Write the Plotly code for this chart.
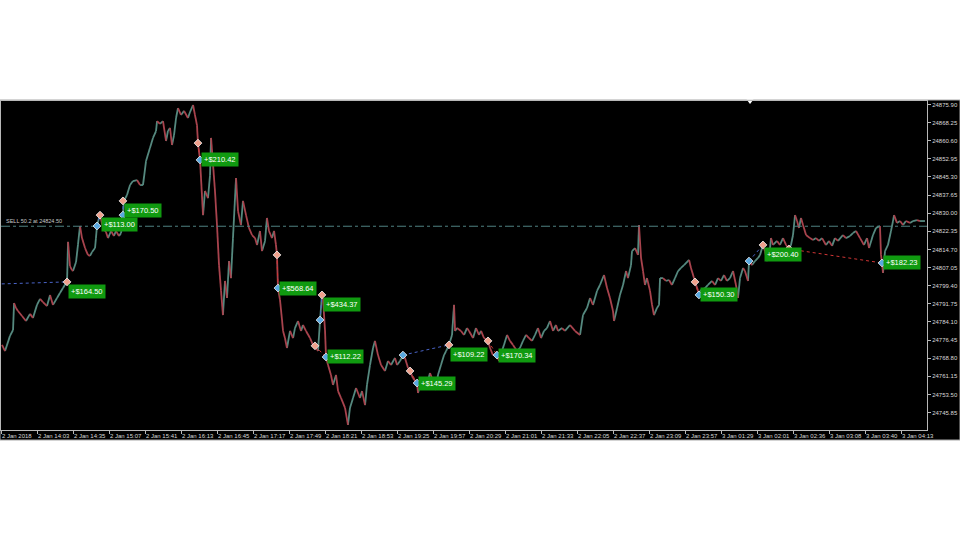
import plotly.graph_objects as go

# ---------------- data ----------------
# price path (bar index, price)
bars = [0.9, 3.6, 8.0, 10.7, 11.6, 13.3, 15.1, 18.7, 22.2, 25.8, 28.4, 32.0, 34.7, 37.3, 40.9, 43.6, 46.2, 49.8, 52.4, 55.1, 57.8, 58.7,
        59.6, 61.3, 63.1, 64.0, 66.7, 68.4, 70.2, 72.0, 74.7, 77.3, 79.1, 80.9, 83.6, 84.4, 85.3, 87.1, 88.0, 90.7, 93.3, 95.1, 97.8, 100.4, 102.2, 104.9, 106.7, 108.4,
        109.3, 112.0, 114.7, 117.3, 120.9, 123.6, 126.2, 128.9, 132.4, 135.1, 137.8, 138.7, 141.3, 144.0, 146.7, 148.4, 150.2, 152.0, 153.8, 155.6, 157.3, 160.0, 162.7, 166.2, 168.0, 170.7, 172.4, 174.2, 175.1, 176.9,
        179.6, 181.3, 184.0, 185.8, 186.7, 188.5, 190.2, 192.0, 193.8, 195.6, 197.3, 199.1, 200.9, 202.7, 204.4, 206.2, 208.9, 210.7, 213.3, 215.1, 217.8, 220.4, 223.1, 225.8, 227.6, 230.2, 232.0, 234.7, 236.4, 238.2, 240.9, 242.7, 244.4, 245.3, 246.2,
        248.0, 249.8, 250.7, 252.4, 254.2, 256.9, 259.6, 261.3, 264.0, 266.7, 268.4, 271.1, 274.7, 277.3, 279.1, 281.8, 283.6, 285.3, 286.2, 288.0, 288.9,
        290.7, 293.3, 295.1, 297.8, 299.6, 302.2, 305.8, 308.4, 310.2, 312.9, 315.6, 319.1, 320.9, 323.6, 325.3, 328.0, 330.7,
        332.4, 335.1, 337.8, 341.3, 344.0, 346.7, 350.2, 352.0, 354.7, 357.3, 359.1, 361.8, 363.6, 366.2, 369.8, 370.7, 372.4, 375.1, 377.8, 381.3, 384.0, 386.7, 388.4, 391.1, 393.8, 395.6, 398.2,
        400.9, 402.7, 403.6, 405.3, 408.9, 411.6, 414.2, 416.0, 419.6, 422.2, 424.9, 426.7, 429.3, 432.9, 434.7, 437.3, 440.9, 442.7, 445.3, 447.1, 449.8, 452.4, 455.1, 458.7, 461.3, 464.0, 466.7, 469.3, 472.0, 474.7, 477.3, 480.0, 482.7, 485.3, 488.0, 490.7, 493.3,
        495.1, 498.7, 501.3, 505.8, 510.2, 514.7, 517.3, 520.9, 523.6, 526.2, 529.8, 532.4, 536.0, 538.7, 541.3, 544.0, 544.9, 547.6, 550.2, 552.9, 555.6, 557.3, 560.0, 560.9, 563.6, 566.2, 567.1, 568.9, 570.7, 572.4, 574.2, 576.9, 578.7, 580.4, 583.1, 584.9, 585.8, 588.4, 591.1, 593.8, 596.4, 599.1, 601.8, 604.4, 607.1, 611.6, 613.3, 616.0, 616.9, 619.6, 620.4,
        621.3, 625.8, 628.4, 632.0, 634.7, 637.3, 640.0, 642.7, 645.3, 648.0, 650.7, 653.3, 655.1, 656.9, 659.6, 661.3, 664.0, 664.9, 667.6, 670.2, 672.9, 674.7, 677.3, 679.1, 680.9, 683.6, 684.4, 686.2, 689.8, 692.4, 695.1, 697.8, 700.4,
        702.2, 704.0, 705.8, 707.6, 709.3, 711.1, 712.9, 715.6, 719.1, 721.8, 724.4, 727.1, 729.8, 733.3, 736.0, 738.7, 741.3, 744.0, 748.4, 751.1, 754.7, 757.3, 760.0, 763.6, 767.1, 769.8, 771.6, 775.1, 777.8, 781.3, 782.2, 783.1, 784.0, 785.8, 788.4, 791.1, 792.9, 793.8, 796.4, 799.1, 801.8, 804.4, 808.0, 810.7, 814.2, 816.9, 821.3]

prices = [24774.4, 24771.8, 24778.2, 24780.7, 24792.1, 24790.0, 24788.7, 24786.6, 24784.5, 24787.5, 24785.8, 24791.3, 24793.8, 24792.5, 24790.8, 24795.5, 24791.3, 24794.2, 24796.3, 24798.4, 24800.5, 24801.0,
          24817.9, 24807.7, 24806.0, 24805.6, 24809.4, 24816.6, 24824.6, 24819.5, 24815.3, 24812.4, 24812.0, 24813.6, 24815.3, 24819.5, 24824.6, 24828.0, 24829.2, 24823.8, 24822.1, 24819.5, 24822.5, 24820.4, 24822.5, 24820.4, 24821.6, 24829.2,
          24835.2, 24837.7, 24841.9, 24843.6, 24844.0, 24841.9, 24841.9, 24852.0, 24857.5, 24861.8, 24864.7, 24868.9, 24867.7, 24868.9, 24860.5, 24864.7, 24866.0, 24858.8, 24863.0, 24870.2, 24874.4, 24871.5, 24873.2, 24870.2, 24872.7, 24875.7, 24871.5, 24867.2, 24859.6, 24852.5,
          24829.2, 24839.4, 24836.4, 24846.1, 24861.8, 24850.4, 24839.4, 24825.0, 24808.1, 24797.2, 24787.0, 24801.4, 24794.2, 24809.8, 24802.6, 24819.5, 24844.9, 24830.9, 24825.0, 24835.2, 24829.2, 24823.8, 24820.8, 24819.5, 24816.6, 24822.5, 24814.0, 24818.3, 24828.0, 24822.5, 24819.5, 24822.5, 24816.6, 24812.4, 24798.4,
          24793.4, 24784.9, 24780.3, 24777.3, 24773.1, 24780.3, 24777.3, 24781.5, 24784.5, 24780.3, 24782.8, 24780.3, 24777.3, 24774.4, 24774.0, 24771.8, 24784.9, 24795.5, 24794.2, 24780.7, 24769.3,
          24765.9, 24761.7, 24757.5, 24761.7, 24754.9, 24752.0, 24747.8, 24740.6, 24747.8, 24752.0, 24756.2, 24752.0, 24754.9, 24749.0, 24757.5, 24765.9, 24773.1,
          24776.1, 24770.1, 24765.9, 24763.4, 24767.6, 24765.9, 24768.9, 24765.9, 24767.6, 24770.1, 24768.9, 24764.6, 24763.4, 24760.4, 24758.3, 24754.1, 24757.5, 24759.2, 24756.2, 24762.5, 24759.2, 24755.4, 24761.7, 24765.9, 24770.1, 24771.8, 24774.4,
          24778.6, 24791.3, 24780.3, 24781.5, 24780.3, 24778.6, 24781.5, 24780.3, 24777.3, 24781.5, 24778.6, 24780.3, 24777.3, 24776.1, 24773.1, 24770.1, 24770.1, 24767.6, 24771.8, 24774.4, 24778.6, 24776.1, 24774.4, 24771.8, 24773.1, 24776.1, 24778.6, 24777.3, 24776.1, 24778.6, 24781.5, 24777.3, 24780.3, 24781.5, 24784.5, 24780.3, 24782.8,
          24780.3, 24781.5, 24780.3, 24782.8, 24780.3, 24778.6, 24787.0, 24790.0, 24794.2, 24791.3, 24797.2, 24799.7, 24803.9, 24798.4, 24794.2, 24788.7, 24784.5, 24790.0, 24795.5, 24799.7, 24805.6, 24802.6, 24808.1, 24814.0, 24815.3, 24812.4, 24825.0, 24811.1, 24805.6, 24799.7, 24802.6, 24797.2, 24791.3, 24787.0, 24790.0, 24791.3, 24802.6, 24802.6, 24801.4, 24801.8, 24799.7, 24802.6, 24805.6, 24806.9, 24808.1, 24810.3, 24806.9, 24802.6, 24801.0, 24797.2, 24795.5,
          24797.2, 24798.4, 24799.7, 24801.4, 24799.7, 24802.6, 24801.4, 24803.9, 24801.4, 24802.6, 24805.6, 24799.7, 24794.2, 24802.6, 24806.9, 24805.6, 24801.4, 24809.8, 24808.1, 24809.8, 24811.1, 24812.4, 24816.6, 24814.0, 24809.8, 24815.3, 24819.5, 24816.6, 24818.3, 24816.6, 24819.5, 24816.6, 24814.9,
          24816.6, 24820.8, 24829.2, 24826.7, 24823.8, 24828.0, 24825.0, 24820.8, 24819.5, 24818.7, 24819.5, 24818.3, 24819.5, 24816.6, 24818.3, 24816.2, 24819.5, 24818.3, 24820.8, 24819.5, 24820.4, 24821.6, 24822.5, 24819.5, 24816.6, 24819.5, 24815.3, 24820.8, 24823.8, 24824.6, 24812.4, 24809.0, 24804.8, 24814.0, 24816.6, 24822.5, 24826.7, 24829.2, 24825.9, 24826.7, 24825.0, 24826.7, 24825.9, 24826.7, 24827.1, 24826.7, 24826.7]

# axis ticks
x_tick_bars = [0, 32, 64, 96, 128, 160, 192, 224, 256, 288, 320, 352, 384, 416, 448, 480, 512, 544, 576, 608, 640, 672, 704, 736, 768, 800]
x_tick_labels = ["2 Jan 2018", "2 Jan 14:03", "2 Jan 14:35", "2 Jan 15:07", "2 Jan 15:41", "2 Jan 16:13", "2 Jan 16:45",
                 "2 Jan 17:17", "2 Jan 17:49", "2 Jan 18:21", "2 Jan 18:53", "2 Jan 19:25", "2 Jan 19:57", "2 Jan 20:29",
                 "2 Jan 21:01", "2 Jan 21:33", "2 Jan 22:05", "2 Jan 22:37", "2 Jan 23:09", "2 Jan 23:57", "3 Jan 01:29",
                 "3 Jan 02:01", "3 Jan 02:36", "3 Jan 03:08", "3 Jan 03:40", "3 Jan 04:13"]
y_tick_values = [24745.85, 24753.50, 24761.15, 24768.80, 24776.45, 24784.10, 24791.75, 24799.40, 24807.05,
                 24814.70, 24822.35, 24830.00, 24837.65, 24845.30, 24852.95, 24860.60, 24868.25, 24875.90]

# trades
trade_side = ["buy", "buy", "buy", "sell", "sell", "buy", "sell", "sell", "buy", "sell", "sell", "buy", "sell"]
trade_open_bar = [-10, 85.3, 108.4, 175.1, 245.3, 283.6, 279.1, 363.6, 357.3, 432.9, 616.9, 664.9, 700.4]
trade_open_price = [24800.0, 24824.6, 24829.2, 24859.6, 24812.4, 24784.9, 24774.0, 24763.4, 24770.1, 24776.1, 24801.0, 24809.8, 24814.9]
trade_close_bar = [58.7, 88.0, 108.4, 176.9, 246.2, 285.3, 288.9, 369.8, 398.2, 440.9, 620.4, 677.3, 783.1]
trade_close_price = [24801.0, 24829.2, 24835.2, 24852.5, 24798.4, 24795.5, 24769.3, 24758.3, 24774.4, 24770.1, 24795.5, 24816.6, 24809.0]
trade_profit = ["+$164.50", "+$113.00", "+$170.50", "+$210.42", "+$568.64", "+$434.37", "+$112.22",
                "+$145.29", "+$109.22", "+$170.34", "+$150.30", "+$200.40", "+$182.23"]

sell_level = 24824.50
sell_label = "SELL 50.2 at 24824.50"
shift_marker_bar = [665.8]

# ---------------- styling ----------------
UP = "#55897f"
DOWN = "#a8434d"
BLUE_M = "#5aa9e0"
ORANGE_M = "#f0a08c"
BUY_LINE = "#4a64c8"
SELL_LINE = "#d03535"
LABEL_BG = "#109a10"
AXIS_C = "#b8b8b8"
TXT_C = "#d8d8d8"

x_range = [0, 823.1]
y_range = [24738.47, 24877.38]

fig = go.Figure()

# price path split into rising / falling segments
ux, uy, dx, dy = [], [], [], []
for i in range(1, len(bars)):
    if prices[i] >= prices[i - 1]:
        ux += [bars[i - 1], bars[i], None]
        uy += [prices[i - 1], prices[i], None]
    else:
        dx += [bars[i - 1], bars[i], None]
        dy += [prices[i - 1], prices[i], None]
fig.add_trace(go.Scatter(x=ux, y=uy, mode="lines", line=dict(color=UP, width=1.8), hoverinfo="skip", showlegend=False))
fig.add_trace(go.Scatter(x=dx, y=dy, mode="lines", line=dict(color=DOWN, width=1.8), hoverinfo="skip", showlegend=False))

# SELL level line
fig.add_trace(go.Scatter(x=x_range, y=[sell_level, sell_level], mode="lines",
                         line=dict(color="#4f8282", width=1, dash="dashdot"), hoverinfo="skip", showlegend=False))

# trade lines and markers
for i in range(len(trade_side)):
    lc = BUY_LINE if trade_side[i] == "buy" else SELL_LINE
    fig.add_trace(go.Scatter(x=[trade_open_bar[i], trade_close_bar[i]], y=[trade_open_price[i], trade_close_price[i]],
                             mode="lines", line=dict(color=lc, width=1, dash="dot"), hoverinfo="skip", showlegend=False))
for i in range(len(trade_side)):
    oc = BLUE_M if trade_side[i] == "buy" else ORANGE_M
    cc = ORANGE_M if trade_side[i] == "buy" else BLUE_M
    fig.add_trace(go.Scatter(x=[trade_open_bar[i], trade_close_bar[i]], y=[trade_open_price[i], trade_close_price[i]],
                             mode="markers", marker=dict(symbol="diamond", size=6, color=[oc, cc],
                                                         line=dict(color="#f4f4f4", width=0.8)),
                             hoverinfo="skip", showlegend=False))
    is_buy = trade_side[i] == "buy"
    fig.add_annotation(x=trade_close_bar[i], y=trade_close_price[i], text=trade_profit[i], showarrow=False,
                       xanchor="left", yanchor="top" if is_buy else "middle", xshift=1, yshift=-2 if is_buy else 0,
                       bgcolor=LABEL_BG, borderpad=2, font=dict(family="Liberation Sans", size=7.5, color="white"))

# SELL label
fig.add_annotation(x=3, y=sell_level, text=sell_label, showarrow=False, xanchor="left", yanchor="bottom",
                   font=dict(family="Liberation Sans", size=5.5, color="#c8c8c8"))

# chart-shift marker at the top border
fig.add_trace(go.Scatter(x=shift_marker_bar, y=[y_range[1]], mode="markers", cliponaxis=False,
                         marker=dict(symbol="triangle-down", size=6, color="white"), hoverinfo="skip", showlegend=False))

# black window background with grey frame
fig.add_shape(type="rect", xref="paper", yref="paper", x0=-1 / 926, x1=959 / 926, y0=-10 / 329, y1=330 / 329,
              fillcolor="black", line=dict(color="#a8a8a8", width=1), layer="below")

fig.update_layout(
    width=960, height=540, autosize=False,
    margin=dict(l=1, r=33, t=101, b=110, pad=0),
    paper_bgcolor="white", plot_bgcolor="black",
    showlegend=False,
    xaxis=dict(range=x_range, showgrid=False, zeroline=False, showline=True, mirror=True, linecolor=AXIS_C, linewidth=1,
               tickmode="array", tickvals=x_tick_bars, ticktext=x_tick_labels, ticks="outside", ticklen=3,
               tickcolor=AXIS_C, ticklabelposition="outside right", tickangle=0, automargin=False,
               tickfont=dict(family="Liberation Sans", size=6, color=TXT_C)),
    yaxis=dict(range=y_range, side="right", showgrid=False, zeroline=False, showline=True, mirror=True,
               linecolor=AXIS_C, linewidth=1, tickmode="array", tickvals=y_tick_values, automargin=False,
               ticktext=["%.2f" % v for v in y_tick_values], ticks="outside", ticklen=3, tickcolor=AXIS_C,
               tickfont=dict(family="Liberation Sans", size=6, color=TXT_C)),
)

fig.write_html("out.html", config={"displayModeBar": False},
               post_script="document.body.style.margin='0';document.body.style.overflow='hidden';")
